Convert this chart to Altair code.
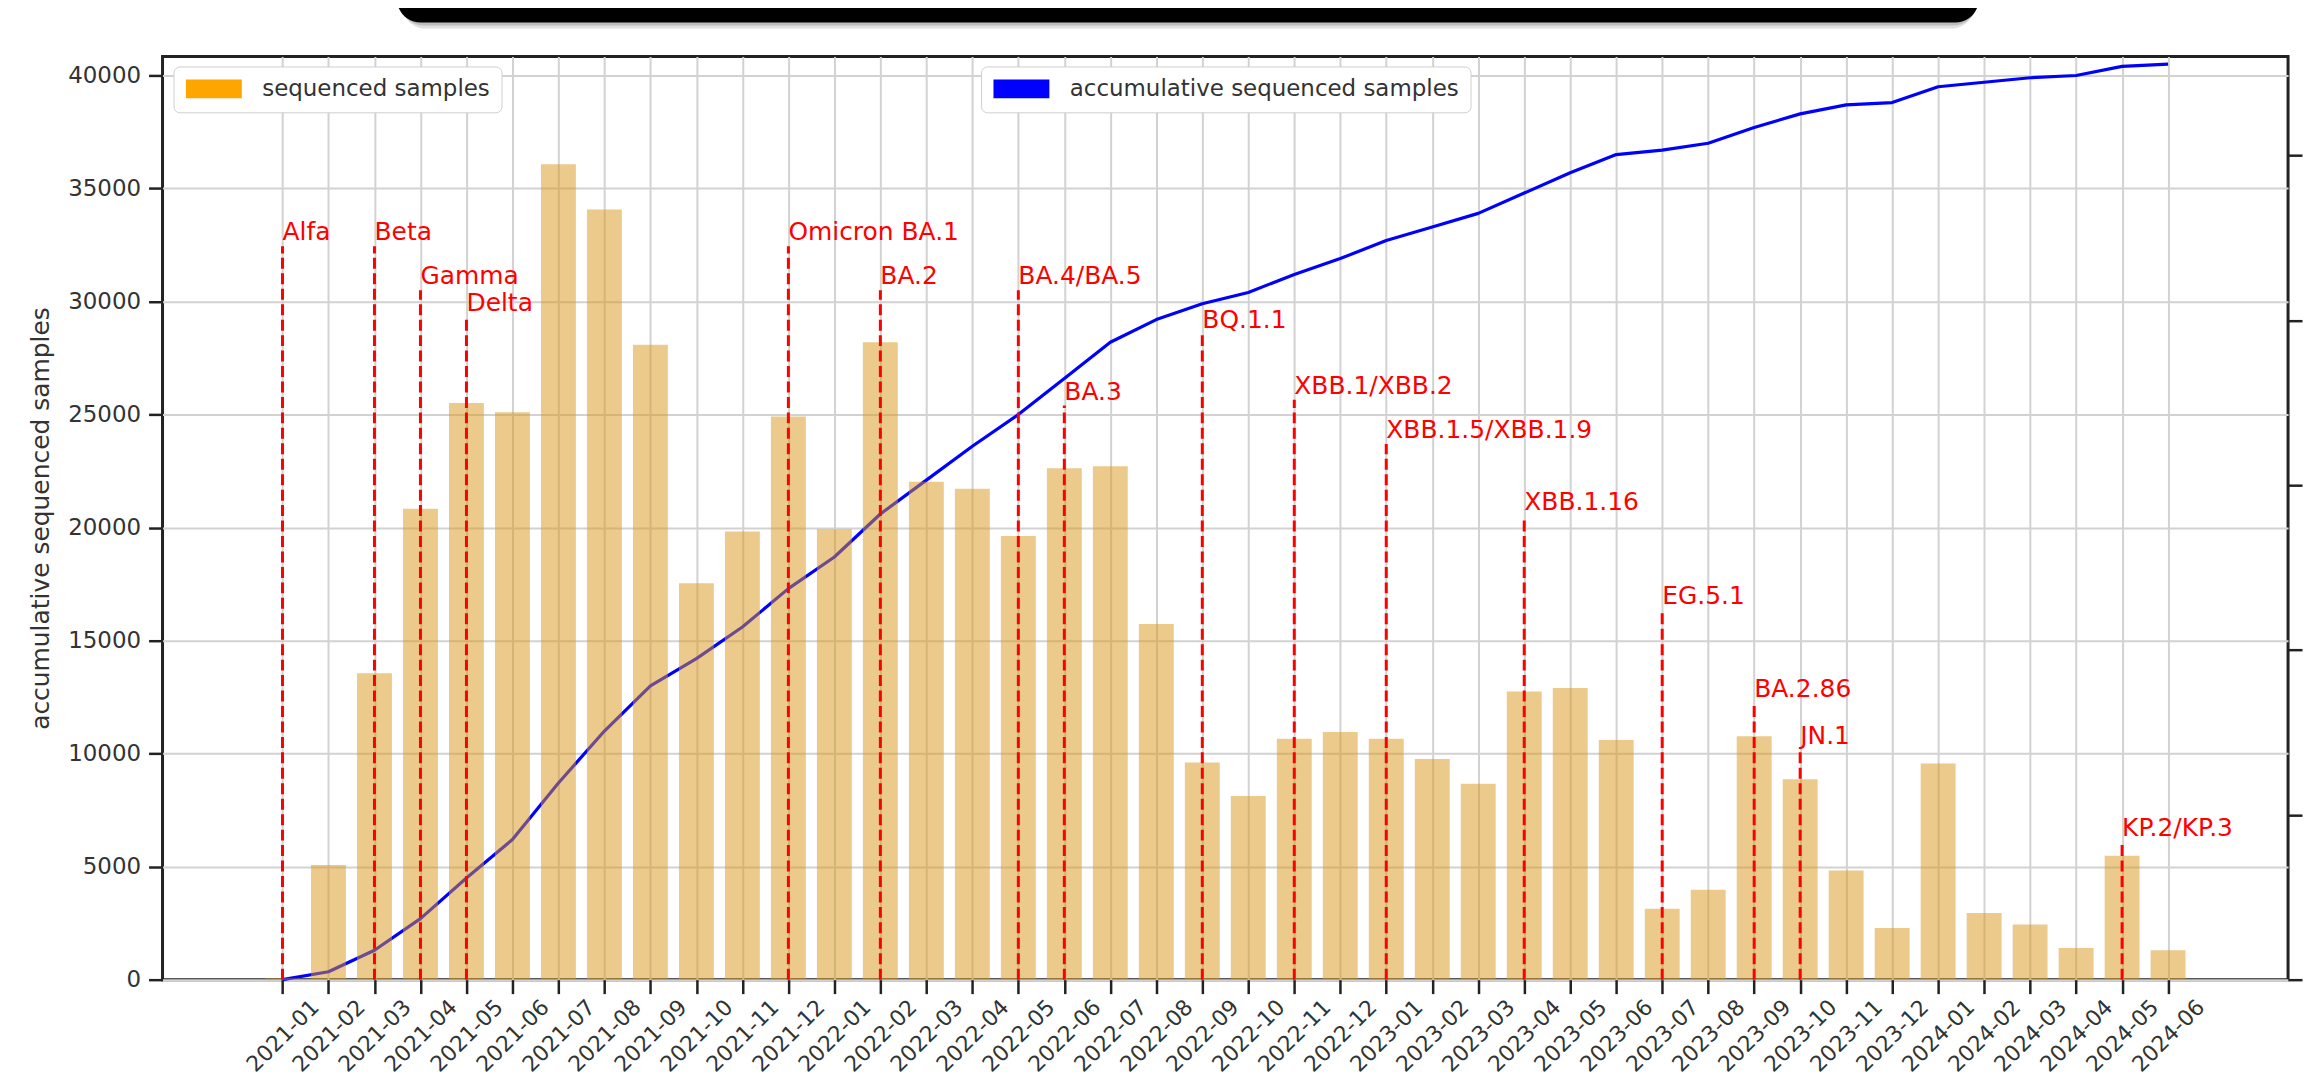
import altair as alt
import pandas as pd

months = ["2021-01", "2021-02", "2021-03", "2021-04", "2021-05", "2021-06",
          "2021-07", "2021-08", "2021-09", "2021-10", "2021-11", "2021-12",
          "2022-01", "2022-02", "2022-03", "2022-04", "2022-05", "2022-06",
          "2022-07", "2022-08", "2022-09", "2022-10", "2022-11", "2022-12",
          "2023-01", "2023-02", "2023-03", "2023-04", "2023-05", "2023-06",
          "2023-07", "2023-08", "2023-09", "2023-10", "2023-11", "2023-12",
          "2024-01", "2024-02", "2024-03", "2024-04", "2024-05", "2024-06"]

sequenced = [4, 348, 929, 1428, 1749, 1721, 2473, 2336, 1926, 1202, 1359, 1708,
             1366, 1933, 1510, 1489, 1346, 1551, 1557, 1079, 659, 557, 731, 751,
             731, 669, 594, 874, 885, 727, 215, 273, 738, 608, 331, 157,
             656, 202, 167, 96, 376, 89]

accumulative = [0, 350, 1300, 2700, 4500, 6200, 8700, 11000, 13000, 14200, 15600, 17300,
                18700, 20600, 22100, 23600, 25000, 26600, 28200, 29200, 29900, 30400, 31200, 31900,
                32700, 33300, 33900, 34800, 35700, 36500, 36700, 37000, 37700, 38300, 38700, 38800,
                39500, 39700, 39900, 40000, 40400, 40500]

variants = ["Alfa", "Beta", "Gamma", "Delta", "Omicron BA.1", "BA.2", "BA.4/BA.5", "BA.3",
            "BQ.1.1", "XBB.1/XBB.2", "XBB.1.5/XBB.1.9", "XBB.1.16", "EG.5.1", "BA.2.86",
            "JN.1", "KP.2/KP.3"]
variant_months = ["2021-01", "2021-03", "2021-04", "2021-05", "2021-12", "2022-02", "2022-05",
                  "2022-06", "2022-09", "2022-11", "2023-01", "2023-04", "2023-07", "2023-09",
                  "2023-10", "2024-05"]
variant_tops = [32450, 32450, 30500, 29300, 32450, 30500, 30500, 25400, 28550, 25650, 23700,
                20500, 16350, 12250, 10150, 6100]

bar_name = "sequenced samples"
line_name = "accumulative sequenced samples"

FONT = "DejaVu Sans"
TXT = "#333333"
GRID = "#d2d2d2"
DARK = "#222222"
BAR_FILL = "#D99519"

df = pd.DataFrame({
    "idx": list(range(len(months))),
    "month": months,
    "sequenced": sequenced,
    "accumulative": accumulative,
    "bar_series": bar_name,
    "line_series": line_name,
})
vdf = pd.DataFrame({
    "idx": [months.index(m) for m in variant_months],
    "variant": variants,
    "top": variant_tops,
    "base": [0] * len(variants),
})
deco = pd.DataFrame({"k": [0]})

label_expr = "[" + ",".join("'" + m + "'" for m in months) + "][datum.value]"

x_scale = alt.Scale(domain=[-2.5, 43.5], nice=False, zero=False)
x_axis = alt.Axis(values=list(range(len(months))), labelExpr=label_expr,
                  labelAngle=-45, labelAlign="center", labelBaseline="middle",
                  labelPadding=42, labelOverlap=False, labelFlush=False, labelBound=False,
                  grid=True, gridColor=GRID, gridWidth=2,
                  tickSize=14, tickWidth=2.5, tickColor=DARK,
                  labelFont=FONT, labelFontSize=22, labelColor=TXT,
                  domain=False, title=None)
x_enc = alt.X("idx:Q", scale=x_scale, axis=x_axis)

y_left_scale = alt.Scale(domain=[0, 40840], nice=False, zero=True)

legend_common = dict(title=None, orient="none", fillColor="white", strokeColor="#cfcfcf",
                     cornerRadius=6, padding=11, labelFont=FONT, labelFontSize=23,
                     labelColor=TXT, labelLimit=800, symbolSize=361, symbolOffset=18,
                     labelOffset=37, symbolOpacity=1, symbolStrokeWidth=0,
                     symbolType="M-2.95,-1H2.95V1H-2.95Z")

# decorative black box at the top (cut-off title banner)
shadow = alt.Chart(deco).mark_rect(cornerRadius=24, color="#000000", opacity=0.12).encode(
    x=alt.value(240), x2=alt.value(1818), y=alt.value(-90), y2=alt.value(-28))
shadow2 = alt.Chart(deco).mark_rect(cornerRadius=24, color="#000000", opacity=0.15).encode(
    x=alt.value(238), x2=alt.value(1820), y=alt.value(-90), y2=alt.value(-31))
banner = alt.Chart(deco).mark_rect(cornerRadius=24, color="#000000").encode(
    x=alt.value(235), x2=alt.value(1822), y=alt.value(-90), y2=alt.value(-34))

line = alt.Chart(df).mark_line(strokeJoin="round", color="#0000ff", strokeWidth=3.2).encode(
    x=x_enc,
    y=alt.Y("accumulative:Q", scale=y_left_scale,
            axis=alt.Axis(orient="left", values=list(range(0, 40001, 5000)), format="d",
                          grid=True, gridColor=GRID, gridWidth=2,
                          tickSize=14, tickWidth=2.5, tickColor=DARK,
                          labelFont=FONT, labelFontSize=23, labelColor=TXT, labelPadding=8,
                          domain=False, title="accumulative sequenced samples",
                          titleFont=FONT, titleFontSize=25, titleFontWeight="normal",
                          titleColor=TXT, titlePadding=14)),
)

bars = alt.Chart(df).mark_bar(size=35, color=BAR_FILL, fillOpacity=0.5).encode(
    x=x_enc,
    y=alt.Y("sequenced:Q", scale=alt.Scale(domain=[0, 2800], nice=False, zero=True),
            axis=alt.Axis(orient="right", values=[0, 500, 1000, 1500, 2000, 2500],
                          labels=False, grid=False, domain=False,
                          tickSize=14, tickWidth=2.5, tickColor=DARK, title=None)),
)

# legend-only layers (no rows drawn): the two boxed legends of the reference
legend_bar = alt.Chart(df).transform_filter("false").mark_bar().encode(
    x=x_enc,
    y=alt.Y("sequenced:Q", axis=None),
    fill=alt.Fill("bar_series:N",
                  scale=alt.Scale(domain=[bar_name], range=["#FFA500"]),
                  legend=alt.Legend(legendX=11, legendY=10, **legend_common)),
)
legend_line = alt.Chart(df).transform_filter("false").mark_bar().encode(
    x=x_enc,
    y=alt.Y("accumulative:Q", axis=None),
    color=alt.Color("line_series:N",
                    scale=alt.Scale(domain=[line_name], range=["#0000ff"]),
                    legend=alt.Legend(legendX=821, legendY=10, **legend_common)),
)

rules = alt.Chart(vdf).mark_rule(strokeDash=[11, 4.5], strokeWidth=3, color="#ff0000").encode(
    x=x_enc,
    y=alt.Y("base:Q", scale=y_left_scale, axis=None),
    y2="top:Q",
)

labels = alt.Chart(vdf).mark_text(align="left", baseline="alphabetic", font=FONT,
                                  fontSize=25, color="#ff0000", dy=-6).encode(
    x=x_enc,
    y=alt.Y("top:Q", scale=y_left_scale, axis=None),
    text="variant:N",
)

chart = alt.layer(shadow, shadow2, banner, line, bars, rules, labels,
                  legend_bar, legend_line).resolve_scale(
    y="independent"
).properties(
    width=2132, height=926,
    autosize=alt.AutoSizeParams(type="none"),
    padding={"left": 155, "top": 47, "right": 18, "bottom": 99},
).configure_view(stroke=DARK, strokeWidth=3)

chart.save("out.html", embed_options={"renderer": "svg", "actions": False})
